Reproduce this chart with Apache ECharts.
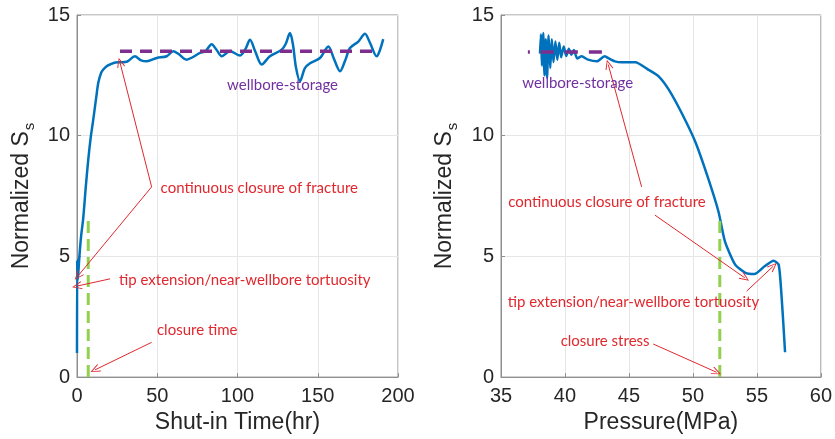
<!DOCTYPE html>
<html><head><meta charset="utf-8">
<script src="https://cdn.jsdelivr.net/npm/echarts@6/dist/echarts.min.js"></script>
<style>html,body{margin:0;padding:0;background:#fff}#c{width:835px;height:439px}</style>
</head><body><div id="c"></div>
<script>
// ---- data ----
var shutInTime = [0,0.1,0.3,0.8,1.5,2.5,3.9,5.5,7.0,8.5,10.2,12,13.3,15,16.4,18.5,20.6,24,26.8,30,32,36,40,43.4,49.7,55.9,60,63,68.3,72,76.6,80,83.9,87,90.2,95.3,101.6,105,107.8,111,115.1,120.2,127.5,130,132.7,134.5,136.5,138.9,142,145.2,151.4,156.6,160,163.9,167,170.1,175.3,179.4,182.6,186.7,188.5,190.8];
var ssTime = [1.0,4.85,4.0,4.3,5.0,5.8,6.6,7.9,9.0,9.9,10.7,11.6,12.2,12.6,12.74,12.88,12.95,13.03,13.04,13.05,13.1,13.29,13.12,13.08,13.22,13.29,13.5,13.4,13.15,13.25,13.43,13.5,13.79,13.55,13.29,13.5,13.32,13.6,13.97,13.5,12.95,13.29,13.56,13.8,14.25,13.8,12.8,12.26,12.8,13.0,13.22,13.7,13.2,12.67,13.1,13.63,13.9,14.22,13.84,13.29,13.5,14.0];
var pressure = [38.05,38.12,38.2,38.3,38.4,38.5,38.6,38.72,38.85,38.97,39.1,39.25,39.4,39.55,39.7,39.9,40.1,40.3,40.5,40.7,40.95,41.3,41.8,42.5,43.1,43.5,43.9,44.4,45.5,46.5,47.3,48.1,49.1,50.2,51.2,52.0,52.5,53.3,54.1,54.8,55.6,56.3,56.7,56.9,57.1,57.2];
var ssPressure = [13.4,14.2,12.9,14.25,12.5,14.0,12.4,14.15,12.8,14.0,13.05,13.9,13.15,13.85,13.25,13.7,13.3,13.6,13.35,13.55,13.2,13.29,13.15,13.08,13.29,13.18,13.08,13.04,13.04,12.74,12.47,11.92,10.96,9.73,8.22,6.85,5.62,4.66,4.32,4.27,4.59,4.82,4.66,3.56,1.92,1.03];
var storageTime = [26.8, 188.8], storageLevelTime = 13.5;
var storagePressure = [37.1, 43.05], storageLevelPressure = 13.47;
var closureTime = 7.0, closureTimeTop = 6.6;
var closureStress = 52.1, closureStressTop = 6.7;
var xTicksTime = [0, 50, 100, 150, 200];
var xTicksPressure = [35, 40, 45, 50, 55, 60];
var yTicks = [0, 5, 10, 15];
var labels = {
  storage: 'wellbore-storage',
  closure: 'continuous closure of fracture',
  tip: 'tip extension/near-wellbore tortuosity',
  closureTime: 'closure time',
  closureStress: 'closure stress'
};

function zip(a, b) { return a.map(function (v, i) { return [v, b[i]]; }); }

var BLUE = '#0072BD', PURPLE = '#7E2F8E', GREEN = '#92D050', RED = '#E0282E', TXTPURPLE = '#7030A0';
var AXC = '#8f8f8f', TICKC = '#262626';
var FONT = 'Liberation Sans, Arial, sans-serif';
var ANNFONT = 'Lato, sans-serif';
var CHEV = 'path://M5,0 L10,10 L9,10.6 L5,2.2 L1,10.6 L0,10 Z';

function xAxisDef(idx, ticks, name) {
  return {
    gridIndex: idx, type: 'value', min: ticks[0], max: ticks[ticks.length - 1], interval: ticks[1] - ticks[0],
    name: name, nameLocation: 'middle', nameGap: 31,
    nameTextStyle: { fontSize: 23, color: TICKC, fontFamily: FONT },
    axisLine: { show: true, onZero: false, lineStyle: { color: AXC, width: 1 } },
    axisTick: { show: true, inside: true, length: 4, lineStyle: { color: AXC } },
    axisLabel: { fontSize: 20, color: TICKC, fontFamily: FONT, margin: 9 },
    splitLine: { show: true, lineStyle: { color: '#e6e6e6', width: 1 } }
  };
}
function yAxisDef(idx, gap) {
  return {
    gridIndex: idx, type: 'value', min: yTicks[0], max: yTicks[yTicks.length - 1], interval: 5,
    name: '{a|Normalized S}{b|s}', nameLocation: 'middle', nameGap: gap,
    nameTextStyle: { color: TICKC, fontFamily: FONT,
      rich: { a: { fontSize: 23, fontFamily: FONT, color: TICKC, lineHeight: 30 },
              b: { fontSize: 15, fontFamily: FONT, color: TICKC, verticalAlign: 'bottom', padding: [0, 0, 0, 1] } } },
    axisLine: { show: true, onZero: false, lineStyle: { color: AXC, width: 1 } },
    axisTick: { show: true, inside: true, length: 4, lineStyle: { color: AXC } },
    axisLabel: { fontSize: 20, color: TICKC, fontFamily: FONT, margin: 7 },
    splitLine: { show: true, lineStyle: { color: '#e6e6e6', width: 1 } }
  };
}
function arrow(x1, y1, x2, y2) {
  return [{ coord: [x1, y1], symbol: 'none' }, { coord: [x2, y2], symbol: CHEV, symbolSize: [8, 10] }];
}
function txt(x, y, text, color) {
  return { coord: [x, y], symbol: 'circle', symbolSize: 0,
    label: { show: true, position: 'right', distance: 0, formatter: text, color: color, fontSize: 15, fontFamily: ANNFONT } };
}
var annLine = { silent: true, animation: false, symbolSize: [8, 10], label: { show: false },
  lineStyle: { color: RED, width: 1, type: 'solid' }, emphasis: { disabled: true } };

var option = {
  animation: false,
  backgroundColor: '#fff',
  grid: [
    { left: 77, top: 15, width: 321, height: 365, show: true, borderColor: AXC, borderWidth: 1 },
    { left: 501, top: 15, width: 320, height: 365, show: true, borderColor: AXC, borderWidth: 1 }
  ],
  xAxis: [xAxisDef(0, xTicksTime, 'Shut-in Time(hr)'), xAxisDef(1, xTicksPressure, 'Pressure(MPa)')],
  yAxis: [yAxisDef(0, 40), yAxisDef(1, 41)],
  series: [
    { type: 'line', xAxisIndex: 0, yAxisIndex: 0, data: zip(shutInTime, ssTime), smooth: 0.3, showSymbol: false,
      lineStyle: { color: BLUE, width: 2.5 }, silent: true },
    { type: 'line', xAxisIndex: 0, yAxisIndex: 0, data: storageTime.map(function (t) { return [t, storageLevelTime]; }),
      showSymbol: false, silent: true, lineStyle: { color: PURPLE, width: 3.5, type: [12, 8] } },
    { type: 'line', xAxisIndex: 0, yAxisIndex: 0, data: [[closureTime, 0], [closureTime, closureTimeTop]],
      showSymbol: false, silent: true, lineStyle: { color: GREEN, width: 3, type: [12, 6] },
      markLine: Object.assign({}, annLine, { data: [
        arrow(46.5, 7.88, 26.8, 13.03),
        arrow(46.5, 7.88, 0.6, 4.19),
        arrow(20.6, 4.07, 0, 3.77),
        arrow(46.5, 1.44, 11.2, 0.3)
      ] }),
      markPoint: { silent: true, animation: false, data: [
        txt(52.1, 7.81, labels.closure, RED),
        txt(93.5, 12.08, labels.storage, TXTPURPLE),
        txt(26.2, 4.0, labels.tip, RED),
        txt(49.8, 1.93, labels.closureTime, RED)
      ] } },
    { type: 'line', xAxisIndex: 1, yAxisIndex: 1, data: zip(pressure, ssPressure), smooth: 0.2, showSymbol: false,
      lineStyle: { color: BLUE, width: 2.5 }, silent: true },
    { type: 'line', xAxisIndex: 1, yAxisIndex: 1, data: storagePressure.map(function (p) { return [p, storageLevelPressure]; }),
      showSymbol: false, silent: true, lineStyle: { color: PURPLE, width: 3.5, type: [13, 11], dashOffset: 11 } },
    { type: 'line', xAxisIndex: 1, yAxisIndex: 1, data: [[closureStress, 0], [closureStress, closureStressTop]],
      showSymbol: false, silent: true, lineStyle: { color: GREEN, width: 3, type: [12, 6] },
      markLine: Object.assign({}, annLine, { data: [
        arrow(45.99, 7.88, 43.38, 12.95),
        arrow(47.03, 6.71, 54.06, 4.11),
        arrow(54.2, 3.56, 56.27, 4.59),
        arrow(46.9, 1.37, 51.85, 0.2)
      ] }),
      markPoint: { silent: true, animation: false, data: [
        txt(36.66, 12.19, labels.storage, TXTPURPLE),
        txt(35.57, 7.26, labels.closure, RED),
        txt(35.52, 3.12, labels.tip, RED),
        txt(39.66, 1.48, labels.closureStress, RED)
      ] } }
  ]
};
var chart = echarts.init(document.getElementById('c'), null, { renderer: 'canvas' });
chart.setOption(option);
</script>
</body></html>
